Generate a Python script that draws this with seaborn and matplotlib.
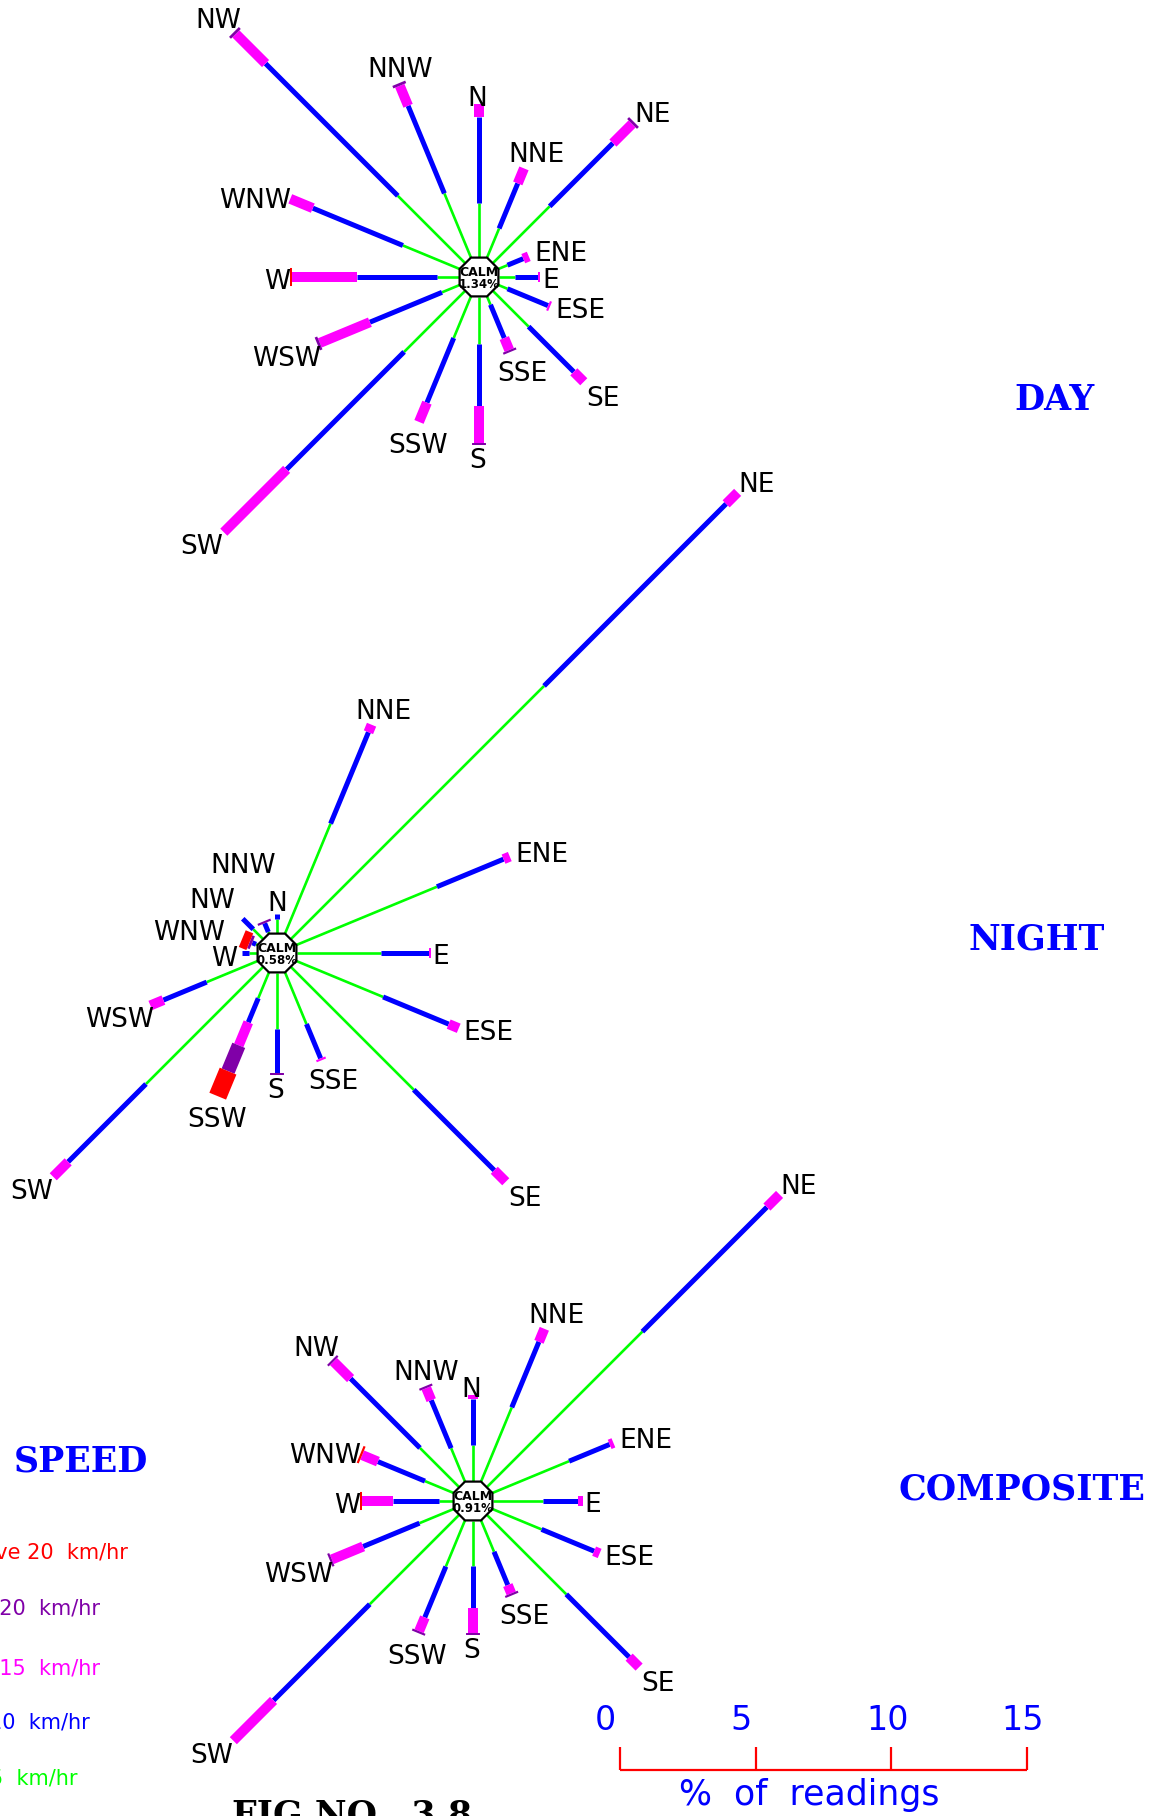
import matplotlib.pyplot as plt
import numpy as np
import pandas as pd
import seaborn as sns
from matplotlib.patches import RegularPolygon

# Inputs
DIRECTIONS = ["N", "NNE", "NE", "ENE", "E", "ESE", "SE", "SSE",
              "S", "SSW", "SW", "WSW", "W", "WNW", "NW", "NNW"]
SPEED_CLASSES = ["1-5", "5-10", "10-15", "15-20", ">20"]
CLASS_COLORS = {"1-5": "#00ff00", "5-10": "#0000ff", "10-15": "#ff00ff",
                "15-20": "#8000a8", ">20": "#ff0000"}
CLASS_WIDTHS = {"1-5": 1.9, "5-10": 3.6, "10-15": 7.2, "15-20": 10.0, ">20": 13.0}

# % of readings per direction, one list per speed class
day_1_5 = [2.0, 1.2, 2.95, 0.4, 0.6, 0.4, 1.85, 0.37, 1.73, 1.7, 3.17, 0.74, 0.81, 2.3, 3.5, 2.6]
day_5_10 = [3.17, 1.8, 3.3, 0.63, 0.85, 1.62, 2.36, 1.33, 2.29, 2.58, 6.13, 2.88, 2.95, 3.6, 6.9, 3.5]
day_10_15 = [0.48, 0.6, 1.0, 0.22, 0.08, 0.08, 0.52, 0.48, 1.37, 0.77, 3.28, 2.0, 2.4, 0.9, 1.55, 0.8]
day_15_20 = [0, 0, 0.1, 0, 0, 0, 0, 0.08, 0.08, 0, 0, 0.1, 0, 0, 0.1, 0.1]
day_above_20 = [0, 0, 0, 0, 0, 0, 0, 0, 0, 0, 0, 0, 0.08, 0, 0, 0]

night_1_5 = [0.5, 4.43, 13.2, 5.65, 3.1, 3.5, 6.4, 2.1, 2.07, 1.07, 6.1, 2.07, 0.3, 0.1, 0.5, 0.1]
night_5_10 = [0.2, 3.65, 9.5, 2.66, 1.77, 2.62, 4.2, 1.37, 1.62, 0.96, 4.06, 1.73, 0.25, 0.15, 0.55, 0.35]
night_10_15 = [0, 0.3, 0.6, 0.25, 0.08, 0.4, 0.6, 0.08, 0, 0.92, 0.78, 0.52, 0, 0, 0, 0]
night_15_20 = [0, 0, 0, 0, 0, 0, 0, 0, 0.08, 1.03, 0, 0, 0, 0.1, 0, 0.08]
night_above_20 = [0, 0, 0, 0, 0, 0, 0, 0, 0, 1.0, 0, 0, 0, 0.3, 0, 0]

comp_1_5 = [1.33, 3.0, 8.1, 3.1, 1.85, 2.0, 4.13, 1.29, 1.66, 1.88, 4.65, 1.4, 0.52, 1.18, 2.03, 1.37]
comp_5_10 = [1.7, 2.62, 6.5, 1.62, 1.29, 2.1, 3.28, 1.33, 1.55, 2.03, 5.02, 2.25, 1.7, 1.88, 3.62, 1.92]
comp_10_15 = [0.15, 0.52, 0.66, 0.15, 0.18, 0.22, 0.52, 0.33, 0.92, 0.55, 2.1, 1.25, 1.14, 0.63, 0.89, 0.48]
comp_15_20 = [0, 0, 0, 0, 0, 0, 0, 0.08, 0.08, 0.08, 0, 0.08, 0, 0, 0.08, 0.08]
comp_above_20 = [0, 0, 0, 0, 0, 0, 0, 0, 0, 0, 0, 0, 0.08, 0.08, 0, 0]

CALM_LABELS = ["1.34%", "0.58%", "0.91%"]
ROSE_TITLES = ["DAY", "NIGHT", "COMPOSITE"]
LEGEND_LABELS = ["Above 20  km/hr", "15 - 20  km/hr", "10 - 15  km/hr", "5 - 10  km/hr", "1 - 5  km/hr"]
SCALE_TICKS = [0, 5, 10, 15]

# Layout (pixels of the 1154x1816 sheet)
PX_PER_PCT = 27.1
R0 = 20
CENTERS = [(479, 277), (277, 953), (473, 1501)]
TITLE_POS = [(1054, 400), (1037, 940), (1022, 1489)]
# label centre relative to the arm tip
LABEL_OFFSET = {"N": (-2, -8), "NNE": (12, -16), "NE": (19, -10), "ENE": (32, -5),
                "E": (10, 1), "ESE": (30, 2), "SE": (19, 14), "SSE": (12, 19),
                "S": (-1, 13), "SSW": (-1, 21), "SW": (-22, 12), "WSW": (-31, 12),
                "W": (-13, 2), "WNW": (-35, -1), "NW": (-16, -14), "NNW": (1, -16)}
NIGHT_LABEL_POS = {"N": (277, 901), "NNW": (243, 863), "NW": (212, 898),
                   "WNW": (189, 930), "W": (224, 956)}


def main():
    tables = [
        [day_1_5, day_5_10, day_10_15, day_15_20, day_above_20],
        [night_1_5, night_5_10, night_10_15, night_15_20, night_above_20],
        [comp_1_5, comp_5_10, comp_10_15, comp_15_20, comp_above_20],
    ]

    # build one two-point segment per direction and speed class
    rows = []
    tips = []
    for k, ((cx, cy), table) in enumerate(zip(CENTERS, tables)):
        for i, d in enumerate(DIRECTIONS):
            theta = np.deg2rad(22.5 * i)
            ux, uy = np.sin(theta), -np.cos(theta)
            r = R0
            for cls, vals in zip(SPEED_CLASSES, table):
                v = vals[i]
                if v <= 0:
                    continue
                r1 = r + v * PX_PER_PCT
                seg = f"{k}-{d}-{cls}"
                rows.append(dict(x=cx + ux * r, y=cy + uy * r, seg=seg, cls=cls))
                rows.append(dict(x=cx + ux * r1, y=cy + uy * r1, seg=seg, cls=cls))
                r = r1
            tips.append((k, d, cx + ux * r, cy + uy * r))
    segments = pd.DataFrame(rows)

    sns.set_theme(style="white")
    plt.rcParams["font.family"] = ["DejaVu Sans"]
    plt.rcParams["lines.solid_capstyle"] = "butt"

    fig = plt.figure(figsize=(11.54, 18.16), dpi=100)
    ax = fig.add_axes([0, 0, 1, 1])
    sns.lineplot(data=segments, x="x", y="y", units="seg", estimator=None,
                 hue="cls", hue_order=SPEED_CLASSES, palette=CLASS_COLORS,
                 size="cls", size_order=SPEED_CLASSES, sizes=CLASS_WIDTHS,
                 sort=False, legend=False, ax=ax)
    ax.set_xlim(0, 1154)
    ax.set_ylim(1816, 0)
    ax.set_aspect("equal")
    ax.axis("off")

    # direction labels
    for k, d, tx, ty in tips:
        if k == 1 and d in NIGHT_LABEL_POS:
            lx, ly = NIGHT_LABEL_POS[d]
        else:
            dx, dy = LABEL_OFFSET[d]
            lx, ly = tx + dx, ty + dy
        ax.text(lx, ly, d, ha="center", va="center_baseline", fontsize=19, color="black")

    # calm octagons
    for (cx, cy), calm in zip(CENTERS, CALM_LABELS):
        ax.add_patch(RegularPolygon((cx, cy), numVertices=8, radius=21,
                                    orientation=np.pi / 8, facecolor="white",
                                    edgecolor="black", linewidth=1.6, zorder=5))
        ax.text(cx, cy - 5, "CALM", ha="center", va="center", fontsize=9,
                fontweight="bold", color="black", zorder=6)
        ax.text(cx, cy + 7, calm, ha="center", va="center", fontsize=8.5,
                fontweight="bold", color="black", zorder=6)

    # titles
    for (tx, ty), title in zip(TITLE_POS, ROSE_TITLES):
        ax.text(tx, ty, title, ha="center", va="center", fontsize=25,
                fontweight="bold", family="DejaVu Serif", color="#0000ff")
    ax.text(81, 1462, "SPEED", ha="center", va="center", fontsize=25,
            fontweight="bold", family="DejaVu Serif", color="#0000ff")

    # speed legend (cut off by the left edge of the sheet)
    legend_x = [128, 100, 100, 90, 77]
    legend_y = [1552, 1608, 1668, 1722, 1778]
    for lab, cls, lx, ly in zip(LEGEND_LABELS, SPEED_CLASSES[::-1], legend_x, legend_y):
        ax.text(lx, ly, lab, ha="right", va="center", fontsize=15,
                color=CLASS_COLORS[cls])

    # scale bar
    x0, ybar = 620, 1770
    ax.plot([x0, x0 + SCALE_TICKS[-1] * PX_PER_PCT], [ybar, ybar], color="#ff0000", lw=1.6)
    for t in SCALE_TICKS:
        xt = x0 + t * PX_PER_PCT
        ax.plot([xt, xt], [ybar, ybar - 23], color="#ff0000", lw=1.6)
        ax.text(xt - 25, 1720, str(t), ha="left", va="center", fontsize=24,
                color="#0000ff")
    ax.text(809, 1795, "%  of  readings", ha="center", va="center", fontsize=25,
            color="#0000ff")

    # figure number, mostly below the sheet edge
    ax.text(352, 1799, "FIG NO.  3.8", ha="center", va="top", fontsize=25,
            fontweight="bold", family="DejaVu Serif", color="black")

    fig.savefig("out.png", dpi=100, facecolor="white")


if __name__ == '__main__':
    main()
